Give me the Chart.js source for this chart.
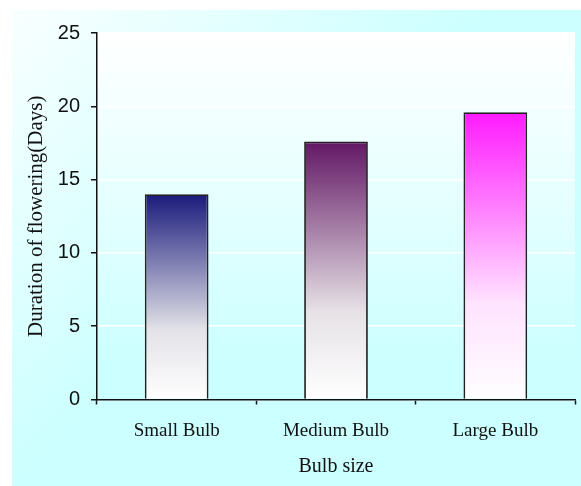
<!DOCTYPE html>
<html>
<head>
<meta charset="utf-8">
<script src="https://cdn.jsdelivr.net/npm/chart.js@4.4.1/dist/chart.umd.min.js"></script>
<style>
  html, body { margin: 0; padding: 0; background: #ffffff; }
  #wrap { width: 581px; height: 486px; }
  canvas { display: block; }
</style>
</head>
<body>
<div id="wrap"><canvas id="chart" width="581" height="486"></canvas></div>
<script>
// Flowering duration by bulb size
const categories = ['Small Bulb', 'Medium Bulb', 'Large Bulb'];
const durationDays = [14, 17.6, 19.6];
const barTopColors = ['#1a1a7c', '#621764', '#ff1aff'];
const barMidColors = ['#e2e2e8', '#e6e2e6', '#ffe2ff'];
const yTickValues = [0, 5, 10, 15, 20, 25];
const xAxisTitle = 'Bulb size';
const yAxisTitle = 'Duration of flowering(Days)';

// Panel and plot-area backgrounds
const backdrop = {
  id: 'backdrop',
  beforeDraw(chart) {
    const { ctx, width, height, chartArea: a } = chart;
    ctx.save();
    ctx.fillStyle = '#ffffff';
    ctx.fillRect(0, 0, width, height);

    const pg = ctx.createLinearGradient(12, 10, 250, 250);
    pg.addColorStop(0, '#f9ffff');
    pg.addColorStop(1, '#ccffff');
    ctx.fillStyle = pg;
    ctx.fillRect(12, 10, width - 12, height - 10);

    const ag = ctx.createLinearGradient(0, a.top, 0, a.bottom);
    ag.addColorStop(0, '#ffffff');
    ag.addColorStop(0.9, '#ccffff');
    ag.addColorStop(1, '#ccffff');
    ctx.fillStyle = ag;
    ctx.fillRect(a.left, a.top, a.right - a.left, a.bottom - a.top);
    ctx.restore();
  }
};

// Vertical gradient from the bar's top colour down to near-white at the base
function barFill(context) {
  const chart = context.chart;
  const area = chart.chartArea;
  const i = context.dataIndex;
  if (!area || !chart.scales.y) return barTopColors[i];
  const yTop = chart.scales.y.getPixelForValue(context.raw);
  const g = chart.ctx.createLinearGradient(0, yTop, 0, area.bottom);
  g.addColorStop(0, barTopColors[i]);
  g.addColorStop(0.66, barMidColors[i]);
  g.addColorStop(1, '#ffffff');
  return g;
}

new Chart(document.getElementById('chart'), {
  type: 'bar',
  data: {
    labels: categories,
    datasets: [{
      data: durationDays,
      backgroundColor: barFill,
      borderColor: '#222222',
      borderWidth: 1.8,
      borderSkipped: 'start',
      categoryPercentage: 1,
      barPercentage: 0.4
    }]
  },
  options: {
    responsive: false,
    animation: false,
    devicePixelRatio: 1,
    layout: { padding: { top: 33, right: 6, bottom: 0, left: 0 } },
    plugins: {
      legend: { display: false },
      tooltip: { enabled: false }
    },
    scales: {
      x: {
        afterFit(scale) { scale.height = 86.5; },
        grid: {
          offset: true,
          drawOnChartArea: false,
          tickLength: 5,
          tickColor: '#111111',
          tickWidth: 1.5
        },
        border: { color: '#111111', width: 1.5 },
        ticks: {
          padding: 15,
          color: '#111111',
          font: { family: '"Liberation Serif", "Times New Roman", serif', size: 19 }
        },
        title: {
          display: true,
          text: xAxisTitle,
          color: '#111111',
          font: { family: '"Liberation Serif", "Times New Roman", serif', size: 20 },
          padding: { top: 0, bottom: 7 }
        }
      },
      y: {
        min: yTickValues[0],
        max: yTickValues[yTickValues.length - 1],
        afterFit(scale) { scale.width = 97; },
        afterBuildTicks(scale) { scale.ticks = yTickValues.map(v => ({ value: v })); },
        grid: {
          color: '#ffffff',
          lineWidth: 1.5,
          tickLength: 6,
          tickColor: '#111111',
          tickWidth: 1.5
        },
        border: { color: '#111111', width: 1.5 },
        ticks: {
          padding: 11,
          color: '#111111',
          font: { family: '"Liberation Sans", Arial, sans-serif', size: 20 }
        },
        title: {
          display: true,
          text: yAxisTitle,
          color: '#111111',
          font: { family: '"Liberation Serif", "Times New Roman", serif', size: 21 },
          padding: { top: 24, bottom: 0 }
        }
      }
    }
  },
  plugins: [backdrop]
});
</script>
</body>
</html>
